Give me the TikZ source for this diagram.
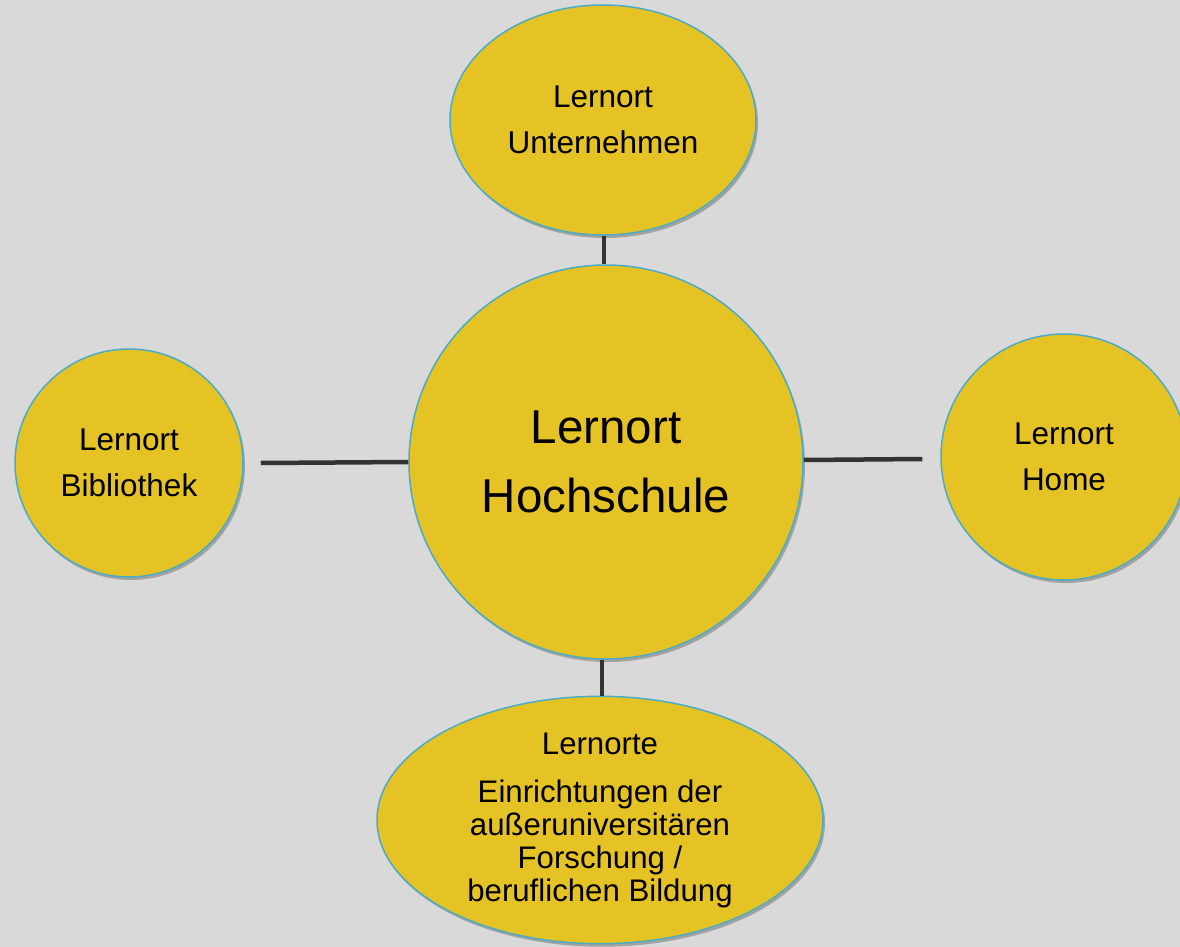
\documentclass[tikz,border=0pt]{standalone}
\usepackage{fontspec}
\setmainfont{Liberation Sans}
\usetikzlibrary{shapes.geometric,shadows}
\definecolor{bg}{HTML}{D9D9D9}
\definecolor{gold}{HTML}{E6C325}
\definecolor{rim}{HTML}{4BACC6}
\definecolor{linec}{HTML}{333333}
\begin{document}
\begin{tikzpicture}[x=1pt,y=-1pt,
  blob/.style={ellipse, draw=rim, line width=1.5pt, fill=gold, inner sep=0pt, align=center,
    drop shadow={shadow xshift=2pt,shadow yshift=-3pt,opacity=0.25,fill=black}},
  small/.style={font=\fontsize{31.5}{46}\selectfont},
  link/.style={draw=linec, line width=4.5pt}]
\fill[bg] (0,0) rectangle (1180,947);
\useasboundingbox (0,0) rectangle (1180,947);
\node[blob, small, minimum width=306pt, minimum height=230pt] (unt) at (603,120) {Lernort\\Unternehmen};
\node[blob, minimum width=394pt, minimum height=394pt, font=\fontsize{47.5}{69}\selectfont] (hs) at (606,462) {Lernort\\Hochschule};
\node[blob, small, minimum width=228pt, minimum height=228pt] (bib) at (129,463) {Lernort\\Bibliothek};
\node[blob, small, minimum width=246pt, minimum height=246pt] (home) at (1064,457) {Lernort\\Home};
\node[blob, minimum width=446pt, minimum height=244pt, font=\fontsize{31.2}{33}\selectfont] (lo) at (600,820) {Lernorte\\[15pt]Einrichtungen der\\außeruniversitären\\Forschung /\\beruflichen Bildung};
\coordinate (homeend) at ([xshift=-18pt,yshift=-2pt]home.west);
\draw[link] ([xshift=1pt]unt.south) -- ([xshift=1pt]unt.south |- hs.north);
\draw[link] ([xshift=17pt]bib.east) -- (hs.west);
\draw[link] ([yshift=2pt]hs.east) -- (homeend);
\draw[link] ([xshift=2pt]lo.north |- hs.south) -- ([xshift=2pt]lo.north);
\end{tikzpicture}
\end{document}
